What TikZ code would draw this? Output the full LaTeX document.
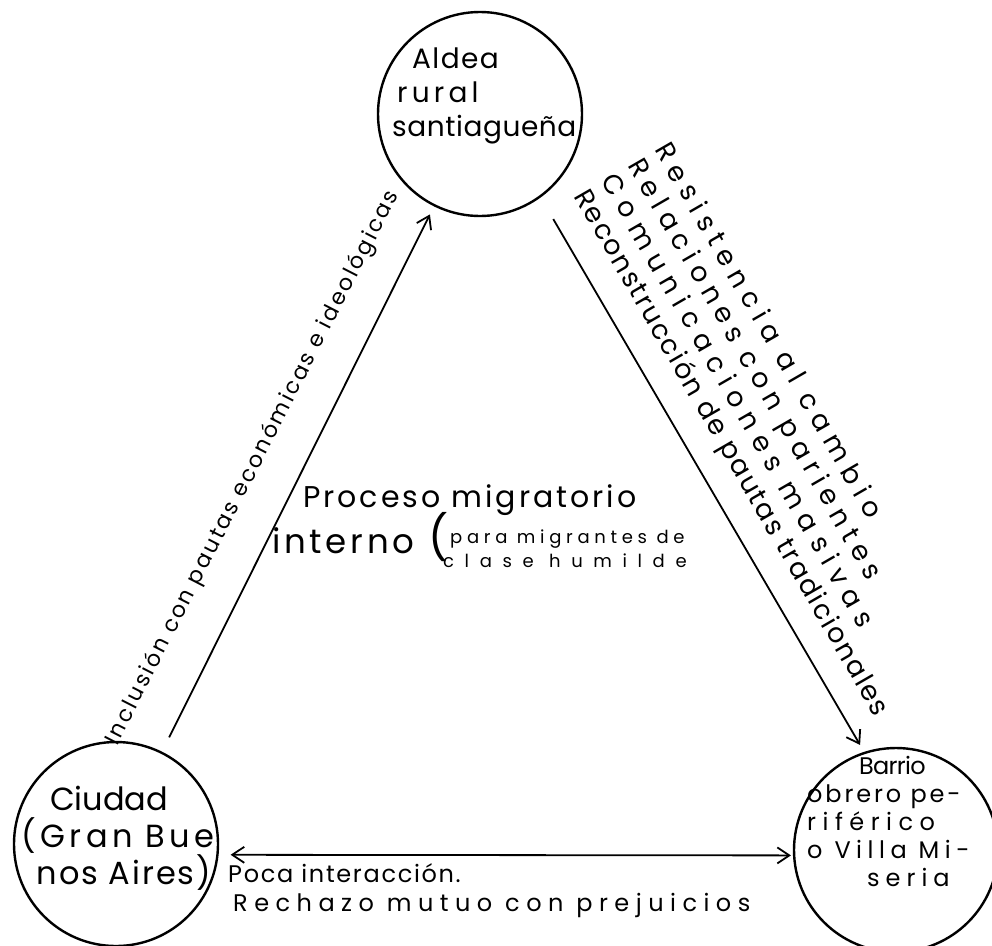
\documentclass[tikz,border=0pt]{standalone}
\usepackage{fontspec}
\newfontfamily\hand{Poppins}
\usetikzlibrary{arrows.meta}
\tikzset{place/.style={circle, draw, line width=2.4pt, minimum size=204pt, inner sep=0pt}}
\tikzset{link/.style={line width=1.8pt, ->}}
\tikzset{hand/.style 2 args={inner sep=0pt, font={\hand\fontsize{#1}{#2}\selectfont}}}
\newcommand\trk[2]{{\addfontfeatures{LetterSpace=#1}#2}}

\begin{document}
\begin{tikzpicture}[x=1pt, y=-1pt, >={Straight Barb[length=12pt, width=16pt]}]
            \useasboundingbox (0,0) rectangle (992,945);
            \node[place] (aldea) at (480,114) {};
            \node[place] (ciudad) at (116,844) {};
            \node[place] (barrio) at (896,850) {};
            \node[hand={28}{34}, anchor=north west, align=left] (aldeatxt) at (392,48)
                {\hspace*{20pt}\trk{5}{Aldea}\\\hspace*{5pt}\trk{15}{rural}\\\trk{2}{santiagueña}};
            \node[hand={32}{37}, anchor=north, align=center] (ciudadtxt) at (118,786)
                {\trk{0}{Ciudad}\hspace*{18pt}\\\trk{14}{(Gran Bue}\\\hspace*{12pt}\trk{6}{nos Aires)}};
            \node[hand={24}{28}, anchor=north west, align=left] (barriotxt) at (807,756)
                {\hspace*{52pt}\trk{-3}{Barrio}\\\trk{12}{obrero pe-}\\\trk{27}{riférico}\\\trk{23}{o Villa Mi-}\\\hspace*{60pt}\trk{25}{seria}};
            \draw[link, shorten <=16pt, shorten >=9pt] (ciudad) -- (aldea);
            \draw[link, shorten <=25pt, shorten >=8pt] (aldea.-54) -- (barrio.108);
            \draw[link, <->, shorten <=12pt, shorten >=2pt] (ciudad.-6) -- (barrio.183);
            \node[hand={22}{22}, rotate=62.9] (inclusion) at (253,468)
                {\trk{11}{Inclusión con pautas económicas e ideológicas}};
            \node[hand={27}{31}, rotate=-60, anchor=north west, align=left] (factores) at (672,139)
                {\trk{27}{Resistencia al cambio}\\\trk{25}{Relaciones con parientes}\\\trk{31}{Comunicaciones masivas}\\\trk{7}{Reconstrucción de pautas tradicionales}};
            \node[hand={30}{30}, anchor=base west] (proceso) at (303,507) {\trk{10}{Proceso migratorio}};
            \node[hand={34}{34}, anchor=base west] (interno) at (272,553) {\trk{11}{interno}};
            \node[hand={44}{44}, anchor=base west] (paren) at (428,553) {(};
            \node[hand={18}{18}, anchor=base west] (para) at (450,543) {\trk{26}{para migrantes de}};
            \node[hand={18}{18}, anchor=base west] (clase) at (443,567) {\trk{59}{clase humilde}};
            \node[hand={24}{24}, anchor=base west] (poca) at (228,882) {\trk{7}{Poca interacción.}};
            \node[hand={24}{24}, anchor=base west] (rechazo) at (233,911) {\trk{27}{Rechazo mutuo con prejuicios}};
        \end{tikzpicture}
\end{document}
